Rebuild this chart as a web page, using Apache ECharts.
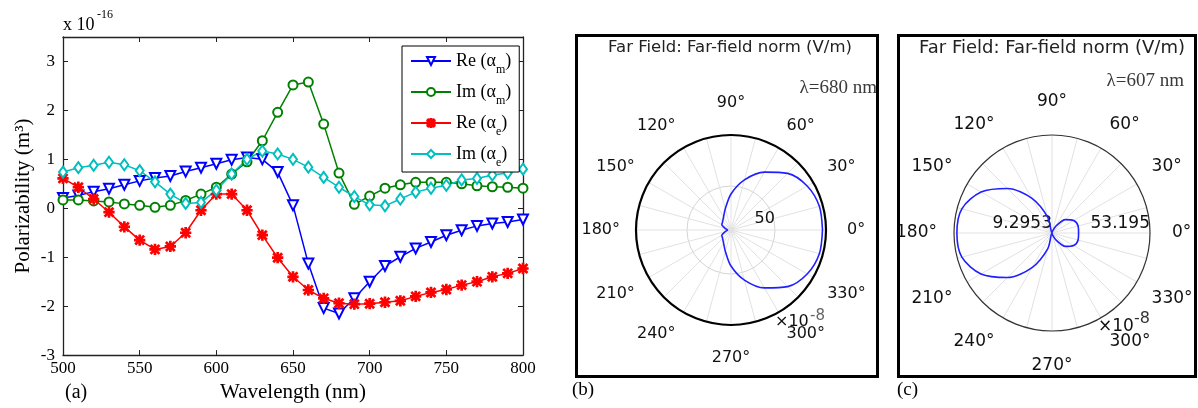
<!DOCTYPE html>
<html><head><meta charset="utf-8">
<script src="https://cdn.jsdelivr.net/npm/echarts@6/dist/echarts.min.js"></script>
<style>html,body{margin:0;padding:0;background:#fff}#c{width:1198px;height:408px}</style>
</head><body><div id="c"></div>
<script>
// ---------- panel (a) data ----------
const wavelengths = [500,510,520,530,540,550,560,570,580,590,600,610,620,630,640,650,660,670,680,690,700,710,720,730,740,750,760,770,780,790,800];
const reAlphaM = [0.21,0.26,0.34,0.40,0.48,0.56,0.62,0.66,0.75,0.83,0.91,0.99,1.04,1.00,0.74,0.06,-1.13,-2.04,-2.15,-1.84,-1.50,-1.18,-0.99,-0.82,-0.69,-0.55,-0.45,-0.36,-0.31,-0.28,-0.23];
const imAlphaM = [0.17,0.17,0.15,0.13,0.09,0.06,0.02,0.06,0.16,0.29,0.43,0.70,0.95,1.38,1.96,2.52,2.58,1.72,0.72,0.08,0.25,0.41,0.48,0.53,0.53,0.53,0.50,0.46,0.44,0.43,0.41];
const reAlphaE = [0.61,0.43,0.19,-0.08,-0.38,-0.65,-0.84,-0.78,-0.50,-0.04,0.29,0.29,-0.04,-0.55,-1.01,-1.40,-1.67,-1.84,-1.94,-1.96,-1.95,-1.92,-1.89,-1.80,-1.72,-1.66,-1.57,-1.50,-1.40,-1.33,-1.23];
const imAlphaE = [0.74,0.83,0.88,0.94,0.89,0.77,0.54,0.29,0.10,0.12,0.37,0.70,1.00,1.17,1.11,1.00,0.84,0.63,0.43,0.24,0.07,0.05,0.19,0.33,0.41,0.47,0.58,0.61,0.68,0.72,0.80];
const seriesNames = ['Re (α_m)','Im (α_m)','Re (α_e)','Im (α_e)'];
const xTickLabels = [500,550,600,650,700,750,800];
const yTickLabels = [-3,-2,-1,0,1,2,3];

// ---------- panel (b) / (c) data (far-field norm, ×1e-8 V/m) ----------
const anglesB = [0,15,30,45,60,75,90,105,120,135,150,160,170,180,190,200,210,225,240,255,270,285,300,315,330,345,360];
const farFieldB = [104,104,100,91,76,59,41,25,17,13.5,12,8,5.5,4,5.5,8,12,13.5,17,25,41,59,76,91,100,104,104];
const anglesC = [0,15,30,45,60,75,90,105,120,135,150,165,180,195,210,225,240,255,270,285,300,315,330,345,360];
const farFieldC = [21.2,21.4,20.5,17.8,13.0,10.3,9.3,16.5,27.2,37.5,46.0,51.1,51.9,51.1,46.0,37.5,27.2,16.5,9.3,10.3,13.0,17.8,20.5,21.4,21.2];
const angleTickLabels = [0,30,60,90,120,150,180,210,240,270,300,330];
const radialLabelsB = [50];
const radialRangeC = [9.2953, 53.195];
const radialLabelsC = ['9.2953','53.195'];

const SERIF = 'Liberation Serif';
const SANS = 'DejaVu Sans';
const colors = ['#0000ff','#008000','#ff0000','#00bfbf'];
const starPath = 'path://M0 8.6L20 8.6L20 11.4L0 11.4Z M8.6 0L11.4 0L11.4 20L8.6 20Z M1 3L3 1L19 17L17 19Z M17 1L19 3L3 19L1 17Z';
const symbols = ['emptyTriangle','emptyCircle',starPath,'emptyDiamond'];
const symbolSizes = [10,9,10,[8,11]];
const values = [reAlphaM, imAlphaM, reAlphaE, imAlphaE];

const lineSeries = values.map((vals, i) => ({
  name: seriesNames[i], type: 'line',
  data: wavelengths.map((w, k) => [w, vals[k]]),
  symbol: symbols[i], symbolSize: symbolSizes[i], symbolRotate: i === 0 ? 180 : 0,
  showAllSymbol: true,
  lineStyle: { color: colors[i], width: 1.5 },
  itemStyle: { color: colors[i], borderColor: colors[i], borderWidth: 1.3 },
  emphasis: { disabled: true }, silent: true
}));

function toPairs(radii, angles) { return angles.map((a, k) => [radii[k], a]); }

function angleAxis(idx, margin, size, lineColor, lineWidth) {
  return {
    polarIndex: idx, type: 'value', min: 0, max: 360, interval: 15,
    startAngle: 0, clockwise: false,
    axisLine: { lineStyle: { color: lineColor, width: lineWidth } },
    axisTick: { show: false },
    splitLine: { show: true, lineStyle: { color: '#e2e2e2', width: 1 } },
    axisLabel: {
      margin: margin, fontFamily: SANS, fontSize: size, color: '#111',
      formatter: v => {
        if (!angleTickLabels.includes(v)) return '';
        if (v === 0) return '{r|' + v + '°}';
        if (v === 90) return '{t|' + v + '°}';
        if (v === 270) return '{b|' + v + '°}';
        return v + '°';
      },
      rich: {
        r: { fontFamily: SANS, fontSize: size, color: '#111', padding: [0, 0, 0, 5] },
        t: { fontFamily: SANS, fontSize: size, color: '#111', padding: [0, 0, 8, 0] },
        b: { fontFamily: SANS, fontSize: size, color: '#111', padding: [9, 0, 0, 0] }
      }
    }
  };
}

const option = {
  animation: false,
  backgroundColor: '#fff',
  grid: { left: 63, top: 37, width: 460, height: 320, containLabel: false },
  xAxis: [
    { type: 'value', position: 'bottom', min: 500, max: 800, interval: 50,
      name: 'Wavelength (nm)', nameLocation: 'middle', nameGap: 24,
      nameTextStyle: { fontFamily: SERIF, fontSize: 21, color: '#000' },
      axisLine: { onZero: false, lineStyle: { color: '#222', width: 1.3 } },
      axisTick: { inside: true, length: 5, lineStyle: { color: '#222' } },
      axisLabel: { margin: 5, fontFamily: SERIF, fontSize: 17, color: '#000',
        formatter: v => xTickLabels.includes(v) ? String(v) : '' },
      splitLine: { show: false } },
    { type: 'value', position: 'top', min: 500, max: 800, interval: 50,
      axisLine: { onZero: false, lineStyle: { color: '#222', width: 1.3 } },
      axisTick: { inside: true, length: 5, lineStyle: { color: '#222' } },
      axisLabel: { show: false }, splitLine: { show: false } }
  ],
  yAxis: [
    { type: 'value', position: 'left', min: -3, max: 3.5, interval: 1,
      name: 'Polarizability (m³)', nameLocation: 'middle', nameGap: 29, nameRotate: 90,
      nameTextStyle: { fontFamily: SERIF, fontSize: 21, color: '#000' },
      axisLine: { onZero: false, lineStyle: { color: '#222', width: 1.3 } },
      axisTick: { inside: true, length: 5, lineStyle: { color: '#222' } },
      axisLabel: { margin: 8, fontFamily: SERIF, fontSize: 17, color: '#000',
        formatter: v => yTickLabels.includes(v) ? String(v) : '' },
      splitLine: { show: false } },
    { type: 'value', position: 'right', min: -3, max: 3.5, interval: 1,
      axisLine: { onZero: false, lineStyle: { color: '#222', width: 1.3 } },
      axisTick: { inside: true, length: 5, lineStyle: { color: '#222' } },
      axisLabel: { show: false }, splitLine: { show: false } }
  ],
  legend: {
    data: seriesNames, orient: 'vertical', left: 402, top: 46,
    padding: [6, 8, 3, 8], itemGap: 7, itemWidth: 40, itemHeight: 10,
    borderColor: '#000', borderWidth: 1, backgroundColor: '#fff',
    selectedMode: false,
    formatter: n => n.replace(/^(.*)_(\w)\)$/, '{n|$1}{s|$2}{n|)}'),
    textStyle: {
      rich: {
        n: { fontFamily: SERIF, fontSize: 18, lineHeight: 20, color: '#000', verticalAlign: 'middle' },
        s: { fontFamily: SERIF, fontSize: 12, lineHeight: 30, color: '#000', verticalAlign: 'bottom' }
      }
    }
  },
  polar: [
    { center: [731, 230], radius: 95 },
    { center: [1052, 233], radius: 98 }
  ],
  angleAxis: [
    angleAxis(0, 16, 16, '#000', 2.2),
    angleAxis(1, 17, 17, '#333', 1.2)
  ],
  radiusAxis: [
    { polarIndex: 0, type: 'value', min: 0, max: 108, interval: 50,
      axisLine: { show: false }, axisTick: { show: false },
      splitLine: { show: true, lineStyle: { color: ['rgba(0,0,0,0)', '#d4d4d4', 'rgba(0,0,0,0)', 'rgba(0,0,0,0)'], width: 1 } },
      axisLabel: { formatter: v => radialLabelsB.includes(v) ? String(v) : '',
        align: 'right', verticalAlign: 'bottom', margin: 3,
        fontFamily: SANS, fontSize: 16, color: '#111' } },
    { polarIndex: 1, type: 'value', min: radialRangeC[0], max: radialRangeC[1],
      axisLine: { show: false }, axisTick: { show: false }, splitLine: { show: false },
      axisLabel: { formatter: v => {
          for (let k = 0; k < radialRangeC.length; k++) if (Math.abs(v - radialRangeC[k]) < 1e-6) return radialLabelsC[k];
          return '';
        },
        align: 'right', verticalAlign: 'bottom', margin: 1,
        fontFamily: SANS, fontSize: 17, color: '#111' } }
  ],
  series: lineSeries.concat([
    { type: 'line', coordinateSystem: 'polar', polarIndex: 0, data: toPairs(farFieldB, anglesB),
      showSymbol: false, smooth: 0.3, lineStyle: { color: '#2020ff', width: 1.6 }, silent: true, z: 5 },
    { type: 'line', coordinateSystem: 'polar', polarIndex: 1, data: toPairs(farFieldC, anglesC),
      showSymbol: false, smooth: 0.3, lineStyle: { color: '#2020ff', width: 1.6 }, silent: true, z: 5 }
  ]),
  graphic: [
    { type: 'text', left: 63, top: 16, style: { text: 'x 10', fontFamily: SERIF, fontSize: 18, fill: '#000' } },
    { type: 'text', left: 97, top: 9, style: { text: '-16', fontFamily: SERIF, fontSize: 12, fill: '#000' } },
    { type: 'text', left: 65, top: 383, style: { text: '(a)', fontFamily: SERIF, fontSize: 20, fill: '#000' } },
    { type: 'rect', shape: { x: 576.5, y: 35.5, width: 301, height: 341 }, style: { fill: 'none', stroke: '#000', lineWidth: 3 }, z: 10 },
    { type: 'rect', shape: { x: 898.5, y: 35.5, width: 297, height: 341 }, style: { fill: 'none', stroke: '#000', lineWidth: 3 }, z: 10 },
    { type: 'text', x: 730, y: 48, style: { text: 'Far Field: Far-field norm (V/m)', fontFamily: SANS, fontSize: 16.5, fill: '#222', align: 'center', verticalAlign: 'middle' } },
    { type: 'text', x: 1052, y: 48, style: { text: 'Far Field: Far-field norm (V/m)', fontFamily: SANS, fontSize: 18, fill: '#222', align: 'center', verticalAlign: 'middle' } },
    { type: 'text', x: 877, y: 88, style: { text: 'λ=680 nm', fontFamily: SERIF, fontSize: 19, fill: '#3a3a3a', align: 'right', verticalAlign: 'middle' } },
    { type: 'text', x: 1184, y: 81, style: { text: 'λ=607 nm', fontFamily: SERIF, fontSize: 19, fill: '#3a3a3a', align: 'right', verticalAlign: 'middle' } },
    { type: 'text', x: 775, y: 322, style: { text: '×10', fontFamily: SANS, fontSize: 16, fill: '#111', verticalAlign: 'middle' } },
    { type: 'text', x: 810, y: 316, style: { text: '-8', fontFamily: SANS, fontSize: 15, fill: '#666', verticalAlign: 'middle' } },
    { type: 'text', x: 1098, y: 327, style: { text: '×10', fontFamily: SANS, fontSize: 17, fill: '#111', verticalAlign: 'middle' } },
    { type: 'text', x: 1134, y: 319, style: { text: '-8', fontFamily: SANS, fontSize: 16, fill: '#333', verticalAlign: 'middle' } },
    { type: 'text', left: 572, top: 381, style: { text: '(b)', fontFamily: SERIF, fontSize: 19, fill: '#000' } },
    { type: 'text', left: 897, top: 381, style: { text: '(c)', fontFamily: SERIF, fontSize: 19, fill: '#000' } }
  ]
};

const chart = echarts.init(document.getElementById('c'), null, { renderer: 'canvas' });
chart.setOption(option);
</script></body></html>
